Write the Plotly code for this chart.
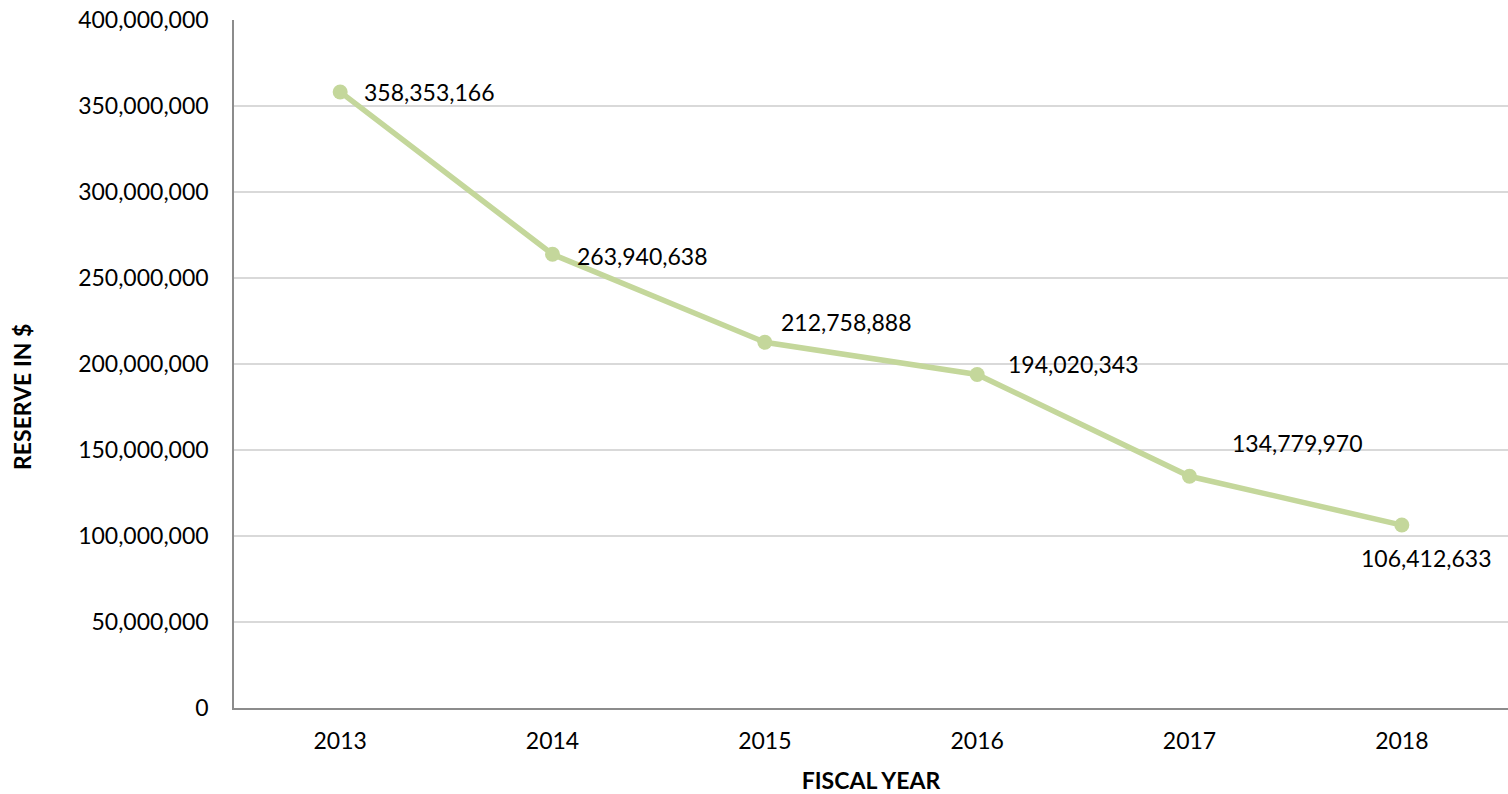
import plotly.graph_objects as go

years = ["2013", "2014", "2015", "2016", "2017", "2018"]
reserve = [358353166, 263940638, 212758888, 194020343, 134779970, 106412633]
y_ticks = [0, 50000000, 100000000, 150000000, 200000000, 250000000, 300000000, 350000000, 400000000]

# label offsets (style only)
label_style = [
    dict(xanchor="left", xshift=22, yshift=0),
    dict(xanchor="left", xshift=22, yshift=-2),
    dict(xanchor="left", xshift=14, yshift=20),
    dict(xanchor="left", xshift=29, yshift=10),
    dict(xanchor="left", xshift=40, yshift=33),
    dict(xanchor="center", xshift=25, yshift=-33),
]

FONT = "Lato, 'Open Sans', sans-serif"
LINE_COLOR = "#C4D79B"

fig = go.Figure()
fig.add_trace(go.Scatter(
    x=years, y=reserve, mode="lines+markers",
    line=dict(color=LINE_COLOR, width=5.5),
    marker=dict(color=LINE_COLOR, size=15),
    showlegend=False, hoverinfo="skip",
))

for i, (v, st) in enumerate(zip(reserve, label_style)):
    fig.add_annotation(x=i, y=v, text=f"{v:,}", showarrow=False,
                       yanchor="middle", font=dict(family=FONT, size=23, color="#000000"),
                       **st)

# y-axis title as annotation for precise placement
fig.add_annotation(xref="paper", yref="paper", x=0, y=0.5, xanchor="center", yanchor="middle",
                   xshift=-212, yshift=-33, textangle=-90, showarrow=False,
                   text="<b>RESERVE IN $</b>", font=dict(family=FONT, size=23, color="#000000"))

fig.update_layout(
    width=1508, height=794,
    margin=dict(l=234, r=0, t=20, b=86, autoexpand=False),
    paper_bgcolor="white", plot_bgcolor="white",
    font=dict(family=FONT, size=23, color="#000000"),
    xaxis=dict(
        type="category", range=[-0.5, 5.5], showgrid=False, showline=True,
        linecolor="#8C8C8C", linewidth=1.5,
        ticks="", ticklabelstandoff=12, tickfont=dict(size=23),
        title=dict(text="<b>FISCAL YEAR</b>", font=dict(size=23), standoff=21),
        automargin=False,
    ),
    yaxis=dict(
        range=[0, 400200000], tickvals=y_ticks, tickformat=",d",
        showgrid=True, gridcolor="#D9D9D9", gridwidth=1.5,
        showline=True, linecolor="#8C8C8C", linewidth=1.5, zeroline=False,
        ticks="", ticklabelstandoff=19, tickfont=dict(size=23),
        ticklabeloverflow="allow",
        automargin=False,
    ),
)

fig.write_html("out.html", config={"displayModeBar": False},
               post_script="document.body.style.margin='0';")
